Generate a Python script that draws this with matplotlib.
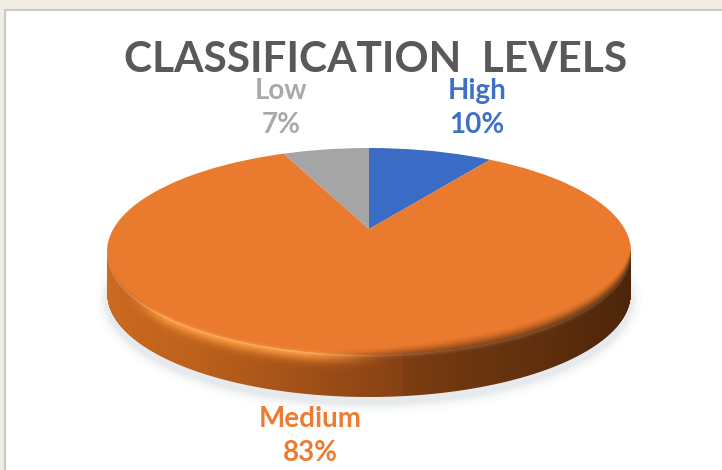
import numpy as np
import matplotlib
matplotlib.use("Agg")
import matplotlib.pyplot as plt
from matplotlib.colors import LinearSegmentedColormap, to_rgb
from matplotlib.patches import Ellipse, Rectangle

# -------------------------------
# Data
# -------------------------------
categories = ["High", "Medium", "Low"]
shares = [10, 83, 7]
slice_colors = ["#3a6cc6", "#ea7a2e", "#a5a5a5"]
label_colors = ["#3f70c8", "#ee7b30", "#a9a9a9"]
title_text = "CLASSIFICATION  LEVELS"

W, H = 722, 470
CX, APEX_Y = 369, 229      # slices meet here, the tilted view puts it above the disc centre
RX, RY = 262, 103.5
TOP_Y = 251.5
DEPTH = 42
SX, SY = 195.0, 81.0       # pixels per pie unit, gives the squashed slice angles


def smooth(v, a, b):
    s = np.clip((v - a) / (b - a), 0, 1)
    return s * s * (3 - 2 * s)


def wall_image():
    # rgba image of the rim, soft towards the top face, hard at the lower edge
    px, py = np.meshgrid(np.arange(W) + 0.5, np.arange(H) + 0.5)
    u = (px - CX) / RX
    inside = np.abs(u) < 1
    ytop = TOP_Y + RY * np.sqrt(np.clip(1 - u ** 2, 0, 1))
    v = (py - ytop) / DEPTH

    cmap = LinearSegmentedColormap.from_list(
        "wall", ["#cc6a20", "#bd611d", "#a85419", "#8f4615", "#773b11", "#66320f", "#52290b"])
    rgb = cmap(np.clip(u * 0.5 + 0.5, 0, 1))[..., :3]
    rgb[px > 403] *= 0.94   # seam in the wall

    # bright rim along the lower left edge
    glow = np.exp(-(v / 0.2) ** 2) * smooth(px, 120, 170) * (1 - smooth(px, 300, 400))
    rgb = rgb + (np.array(to_rgb("#ff9a3c")) - rgb) * glow[..., None] * 0.95

    # the blend into the top face widens from left to right
    spread = smooth(px, 300, 480)
    soft = smooth(v, -0.12 - 0.18 * spread, 0.08 + 0.04 * spread)
    edge = np.clip((1 - v) * DEPTH + 0.5, 0, 1)
    # the outline drops vertically at both ends, above the side points nothing shows
    alpha = soft * edge * inside * np.clip(py - TOP_Y + 1, 0, 1)
    return np.dstack([rgb, alpha])


fig = plt.figure(figsize=(W / 100, H / 100), dpi=100, facecolor="#f1ede3")

# background and panel, in pixel coordinates
bg = fig.add_axes([0, 0, 1, 1])
bg.set_xlim(0, W)
bg.set_ylim(H, 0)
bg.axis("off")
bg.add_patch(Rectangle((4.5, 10), W, H, fc="white", ec="#c9c9c9", lw=1.5))

# soft shadow under the disc
for grow, a in zip([22, 16, 11, 7, 3], [0.02, 0.025, 0.03, 0.04, 0.05]):
    bg.add_patch(Ellipse((CX, TOP_Y + DEPTH + 6), 2 * RX + grow, 2 * RY + grow,
                         fc="#6f7f95", ec="none", alpha=a))

# top face, the pie itself, clipped to the disc outline
ax = fig.add_axes([0, 0, 1, 1], facecolor="none")
wedges, _ = ax.pie(shares, colors=slice_colors, startangle=90, counterclock=False,
                   radius=2.2, wedgeprops={"linewidth": 0})
ax.set_aspect("auto")
ax.set_xlim(-CX / SX, (W - CX) / SX)
ax.set_ylim(-(H - APEX_Y) / SY, APEX_Y / SY)
ax.axis("off")
disc = Ellipse((0, (APEX_Y - TOP_Y) / SY), 2 * RX / SX, 2 * RY / SY, fc="none", ec="none")
ax.add_patch(disc)
for w in wedges:
    w.set_clip_on(True)
    w.set_clip_path(disc)

# rim of the disc and the text on top
overlay = fig.add_axes([0, 0, 1, 1], facecolor="none")
overlay.imshow(wall_image(), extent=(0, W, H, 0), aspect="auto", interpolation="bilinear")
overlay.set_xlim(0, W)
overlay.set_ylim(H, 0)
overlay.axis("off")

# title and data labels
font = ["Lato", "DejaVu Sans"]
overlay.text(376, 60, title_text, ha="center", va="center", family=font, weight="bold",
             fontsize=30.5, color="#595959")
label_xy = [(477, 108), (310, 436), (281, 108)]
for name, val, col, (lx, ly) in zip(categories, shares, label_colors, label_xy):
    overlay.text(lx, ly, f"{name}\n{val}%", ha="center", va="center", family=font,
                 weight="bold", fontsize=20, color=col, linespacing=1.38)

fig.savefig("out.png", dpi=100, facecolor=fig.get_facecolor())
